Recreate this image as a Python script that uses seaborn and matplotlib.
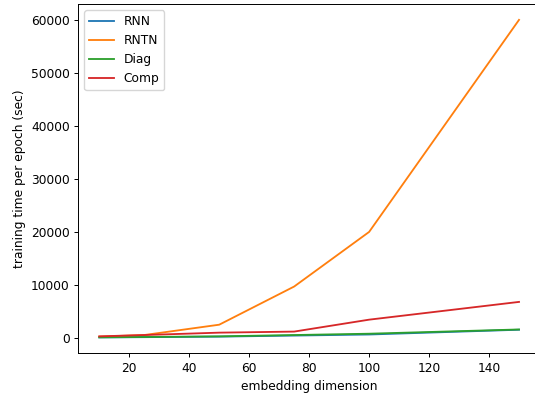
import pandas as pd
import matplotlib
matplotlib.use('Agg')
import matplotlib.pyplot as plt
import seaborn as sns

# -------------------- Data --------------------
dims = [10, 25, 50, 75, 100, 150]
rnn = [100, 150, 250, 450, 650, 1550]
rntn = [250, 550, 2500, 9700, 20000, 60000]
diag = [120, 180, 300, 550, 800, 1600]
comp = [300, 550, 1000, 1200, 3450, 6800]

models = ['RNN', 'RNTN', 'Diag', 'Comp']
series = [rnn, rntn, diag, comp]

rows = []
for name, vals in zip(models, series):
    for d, v in zip(dims, vals):
        rows.append({'dim': d, 'time': v, 'model': name})
df = pd.DataFrame(rows)

# -------------------- Style (reference looks rendered at ~0.88 scale) --------------------
s = 0.88
plt.rcParams.update({
    'font.size': 10 * s,
    'lines.linewidth': 1.5 * s,
    'axes.linewidth': 0.8 * s,
    'xtick.major.size': 3.5 * s,
    'ytick.major.size': 3.5 * s,
    'xtick.major.width': 0.8 * s,
    'ytick.major.width': 0.8 * s,
    'xtick.major.pad': 3.5 * s,
    'ytick.major.pad': 3.5 * s,
    'axes.labelpad': 4.0 * s,
})

# -------------------- Plot --------------------
W, H = 535, 396
fig = plt.figure(figsize=(W / 100, H / 100), dpi=100)
# axes box runs past the right edge in the reference (cropped image)
ax = fig.add_axes([78.3 / W, (H - 353.3) / H, (540 - 78.3) / W, (353.3 - 4) / H])
sns.lineplot(data=df, x='dim', y='time', hue='model', hue_order=models,
             palette=['#1f77b4', '#ff7f0e', '#2ca02c', '#d62728'], ax=ax)
ax.set_xlabel('embedding dimension')
ax.set_ylabel('training time per epoch (sec)')
ax.legend(loc='upper left')
plt.savefig('out.png', dpi=100)
